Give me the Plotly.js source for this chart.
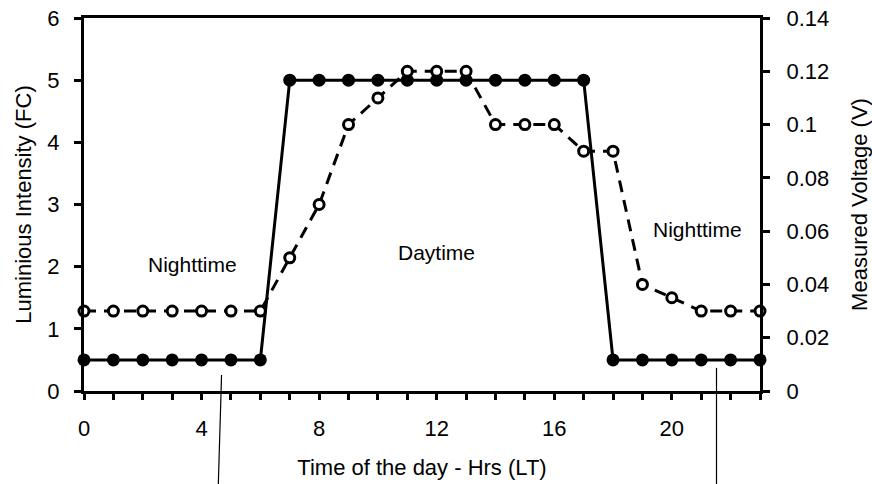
<!DOCTYPE html>
<html><head><meta charset="utf-8">
<script src="https://cdn.plot.ly/plotly-3.0.1.min.js"></script>
<style>html,body{margin:0;padding:0;background:#fff}#c{width:872px;height:484px}</style>
</head><body><div id="c"></div>
<script>
const hours = [0,1,2,3,4,5,6,7,8,9,10,11,12,13,14,15,16,17,18,19,20,21,22,23];
const intensityFC = [0.5,0.5,0.5,0.5,0.5,0.5,0.5,5,5,5,5,5,5,5,5,5,5,5,0.5,0.5,0.5,0.5,0.5,0.5];
const voltageV = [0.03,0.03,0.03,0.03,0.03,0.03,0.03,0.05,0.07,0.1,0.11,0.12,0.12,0.12,0.1,0.1,0.1,0.09,0.09,0.04,0.035,0.03,0.03,0.03];
const xTickVals = hours;
const xTickText = hours.map(h => h % 4 === 0 ? String(h) : '');
const yLeftTicks = [0,1,2,3,4,5,6];
const yRightTicks = [0,0.02,0.04,0.06,0.08,0.1,0.12,0.14];
const yRightText = ['0','0.02','0.04','0.06','0.08','0.1','0.12','0.14'];

const font = 'Liberation Sans, Arial, sans-serif';
const traces = [
  {x: hours, y: voltageV, yaxis: 'y2', type: 'scatter', mode: 'lines+markers',
   line: {color: '#000', width: 3, dash: '12px,8px'},
   marker: {symbol: 'circle', size: 10, color: '#fff', line: {color: '#000', width: 3}},
   cliponaxis: false, showlegend: false},
  {x: hours, y: intensityFC, yaxis: 'y', type: 'scatter', mode: 'lines+markers',
   line: {color: '#000', width: 3},
   marker: {symbol: 'circle', size: 13, color: '#000'},
   cliponaxis: false, showlegend: false}
];
const layout = {
  width: 872, height: 484,
  margin: {l: 84, r: 112, t: 18, b: 93},
  paper_bgcolor: '#fff', plot_bgcolor: '#fff',
  font: {family: font, color: '#000', size: 22},
  xaxis: {range: [0, 23], tickvals: xTickVals, ticktext: xTickText,
    showline: true, linewidth: 3, linecolor: '#000', mirror: true,
    ticks: 'outside', ticklen: 6, tickwidth: 3, tickcolor: '#000', ticklabelstandoff: 10,
    showgrid: false, zeroline: false, tickfont: {size: 22},
    title: {text: 'Time of the day - Hrs (LT)', font: {size: 22}, standoff: 20}},
  yaxis: {range: [0, 6], tickvals: yLeftTicks,
    showline: true, linewidth: 3, linecolor: '#000',
    ticks: 'outside', ticklen: 7, tickwidth: 3, tickcolor: '#000', ticklabelstandoff: 10,
    showgrid: false, zeroline: false, tickfont: {size: 22},
    title: {text: 'Luminious Intensity (FC)', font: {size: 22}, standoff: 10}},
  yaxis2: {range: [0, 0.14], tickvals: yRightTicks, ticktext: yRightText,
    overlaying: 'y', side: 'right',
    showline: true, linewidth: 3, linecolor: '#000',
    ticks: 'outside', ticklen: 7, tickwidth: 3, tickcolor: '#000', ticklabelstandoff: 12,
    showgrid: false, zeroline: false, tickfont: {size: 22},
    title: {text: 'Measured Voltage (V)', font: {size: 22}, standoff: 24}},
  annotations: [
    {x: 3.69, y: 2.03, xref: 'x', yref: 'y', text: 'Nighttime', showarrow: false, font: {size: 21}},
    {x: 12.0, y: 2.22, xref: 'x', yref: 'y', text: 'Daytime', showarrow: false, font: {size: 21}},
    {x: 20.89, y: 2.59, xref: 'x', yref: 'y', text: 'Nighttime', showarrow: false, font: {size: 21}}
  ],
  shapes: [
    {type: 'line', xref: 'x', yref: 'paper', x0: 4.68, y0: 0.043, x1: 4.57, y1: -0.25, line: {color: '#000', width: 1.2}},
    {type: 'line', xref: 'x', yref: 'paper', x0: 21.52, y0: 0.062, x1: 21.52, y1: -0.25, line: {color: '#000', width: 1.2}}
  ]
};
Plotly.newPlot('c', traces, layout, {staticPlot: true, displayModeBar: false});
</script></body></html>
